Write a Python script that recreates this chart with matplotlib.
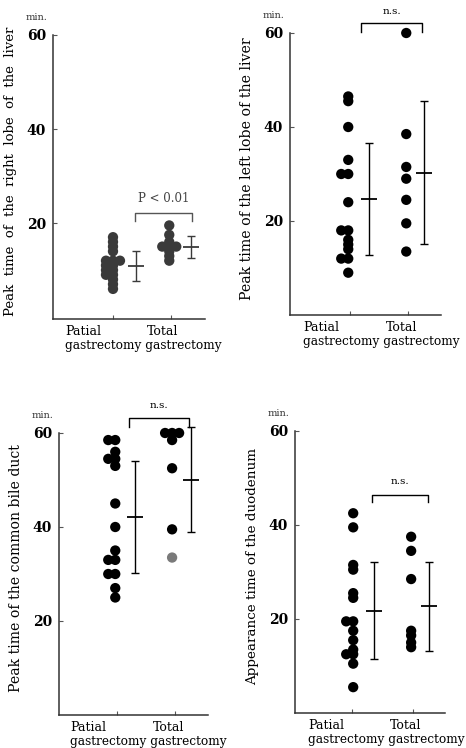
import matplotlib
matplotlib.use("Agg")
import matplotlib.pyplot as plt
import numpy as np

# values in min.
right_patial = [17, 16, 15, 14, 12, 12, 12, 11, 11, 10, 10, 9, 9, 8, 7, 6]
right_total = [19.5, 17.5, 16, 15, 15, 15, 14, 13, 12]
right_mean = [10.9, 14.9]
right_sd = [3.2, 2.4]

left_patial = [46.5, 45.5, 40, 33, 30, 30, 24, 18, 18, 16, 15, 14, 12, 12, 9]
left_total = [60, 38.5, 31.5, 29, 24.5, 19.5, 13.5]
left_mean = [24.7, 30.3]
left_sd = [11.9, 15.2]

bile_patial = [58.5, 58.5, 56, 54.5, 54.5, 53, 45, 40, 35, 33, 33, 30, 30, 27, 25]
bile_total = [60, 60, 60, 58.5, 52.5, 39.5, 33.5]
bile_mean = [42.2, 50.1]
bile_sd = [11.9, 11.1]

duo_patial = [42.5, 39.5, 31.5, 30.5, 25.5, 24.5, 19.5, 19.5, 17.5, 15.5, 13.5, 12.5, 12.5, 10.5, 5.5]
duo_total = [37.5, 34.5, 28.5, 17.5, 16.5, 15, 14]
duo_mean = [21.8, 22.7]
duo_sd = [10.3, 9.5]

ylabels = ["Peak  time  of  the  right  lobe  of  the  liver",
           "Peak time of the left lobe of the liver",
           "Peak time of the common bile duct",
           "Appearance time of the duodenum"]
group_labels = ["Patial", "Total"]
sig_labels = ["P < 0.01", "n.s.", "n.s.", "n.s."]
yticks = [20, 40, 60]

W, H = 466, 748
dpi = 100
serif = "DejaVu Serif"

# layout: axes box in pixels (left, top, right, bottom), limits, marks positions
layout = [
    dict(box=(53, 35, 205, 319), xlim=(-0.034, 2.586), ylim=(-0.4, 60),
         cols=(1.0, 1.97), err_x=(1.40, 2.34), br=(1.38, 2.36, 22.1, 1.6), sig_y=25.2,
         lab_x=(0.17, 1.59), col='#3a3a3a', faint=None, lab_fs=9.5),
    dict(box=(290, 33, 441, 315), xlim=(-0.034, 2.569), ylim=(0, 60),
         cols=(0.97, 1.97), err_x=(1.33, 2.28), br=(1.19, 2.24, 62.1, 1.9), sig_y=64.6,
         lab_x=(0.19, 1.62), col='black', faint=None, lab_fs=10.2),
    dict(box=(59, 433, 208, 715), xlim=(0.0, 2.569), ylim=(0, 60),
         cols=(0.97, 1.95), err_x=(1.31, 2.28), br=(1.21, 2.24, 63.1, 1.8), sig_y=65.8,
         lab_x=(0.19, 1.62), col='black', faint=6, lab_fs=10.1),
    dict(box=(295, 431, 445, 713), xlim=(0.066, 2.525), ylim=(0, 60),
         cols=(1.02, 1.97), err_x=(1.36, 2.26), br=(1.33, 2.25, 46.3, 1.4), sig_y=49.2,
         lab_x=(0.28, 1.62), col='black', faint=None, lab_fs=9.7),
]

data = [
    (right_patial, right_total, right_mean, right_sd),
    (left_patial, left_total, left_mean, left_sd),
    (bile_patial, bile_total, bile_mean, bile_sd),
    (duo_patial, duo_total, duo_mean, duo_sd),
]


def swarm_x(ax, x0, values, step_px=7.0, min_px=4.5):
    # spread equal values sideways, like the hand-plotted dots
    disp = ax.transData.transform(np.column_stack([np.full(len(values), x0), values]))
    placed = []
    for px, py in disp:
        for k in [0, -1, 1, -2, 2, -3, 3]:
            cx = px + k * step_px
            if all(np.hypot(cx - qx, py - qy) >= min_px for qx, qy in placed):
                break
        placed.append((cx, py))
    return ax.transData.inverted().transform(np.array(placed))[:, 0]


fig = plt.figure(figsize=(W / dpi, H / dpi), dpi=dpi)
fig.patch.set_facecolor('white')

for i, (lay, (pat, tot, mean, sd)) in enumerate(zip(layout, data)):
    l, t, r, b = lay['box']
    ax = fig.add_axes([l / W, 1 - b / H, (r - l) / W, (b - t) / H])
    ax.set_xlim(*lay['xlim'])
    ax.set_ylim(*lay['ylim'])
    ax.patch.set_alpha(0)
    for s in ['top', 'right']:
        ax.spines[s].set_visible(False)
    for s in ['left', 'bottom']:
        ax.spines[s].set_color('#333333')
        ax.spines[s].set_linewidth(1.1)
    ax.set_yticks(yticks)
    ax.set_yticklabels([str(v) for v in yticks], fontfamily=serif, fontweight='bold', fontsize=10)
    ax.set_xticks([1, 2])
    ax.set_xticklabels([])
    ax.tick_params(direction='in', length=3, width=0.8, color='#555555', pad=5)

    c = lay['col']
    for x0, vals in zip(lay['cols'], (pat, tot)):
        xs = swarm_x(ax, x0, vals)
        cols = [c] * len(vals)
        if lay['faint'] is not None and vals is tot:
            cols[lay['faint']] = '#7a7a7a'
        ax.scatter(xs, vals, s=55, c=cols, edgecolors='none', zorder=3, clip_on=False)

    for xe, m, e in zip(lay['err_x'], mean, sd):
        ax.errorbar(xe, m, yerr=e, fmt='none', ecolor=c, elinewidth=1.0,
                    capsize=3.2, capthick=1.0, clip_on=False)
        ax.plot([xe], [m], marker='_', ms=11, mew=1.3, color=c, clip_on=False)

    x1, x2, yb, dy = lay['br']
    ax.plot([x1, x1, x2, x2], [yb - dy, yb, yb, yb - dy], color=c if i else '#555555',
            lw=1.0, clip_on=False)
    ax.text((x1 + x2) / 2, lay['sig_y'], sig_labels[i], ha='center', va='center',
            fontfamily=serif, fontsize=8.5 if i == 0 else 7.5,
            color='#444444' if i == 0 else 'black')

    ax.annotate("min.", xy=(0, 1), xycoords='axes fraction', xytext=(-4, 12.5),
                textcoords='offset points', ha='right', va='center',
                fontfamily=serif, fontsize=7, color='#333333')

    ax.set_ylabel(ylabels[i], fontfamily=serif, fontsize=lay['lab_fs'])
    ax.yaxis.set_label_coords(-36 / (r - l), 0.52)

    lx1, lx2 = lay['lab_x']
    for x, txt in [(lx1, group_labels[0]), (lx2, group_labels[1])]:
        ax.annotate(txt, xy=(x, 0), xycoords=('data', 'axes fraction'), xytext=(0, -9.2),
                    textcoords='offset points', ha='left', va='center',
                    fontfamily=serif, fontsize=9)
    ax.annotate("gastrectomy gastrectomy", xy=(lx1, 0), xycoords=('data', 'axes fraction'),
                xytext=(0, -19.3), textcoords='offset points', ha='left', va='center',
                fontfamily=serif, fontsize=8.7, annotation_clip=False)

fig.savefig("out.png", dpi=dpi, facecolor='white')
